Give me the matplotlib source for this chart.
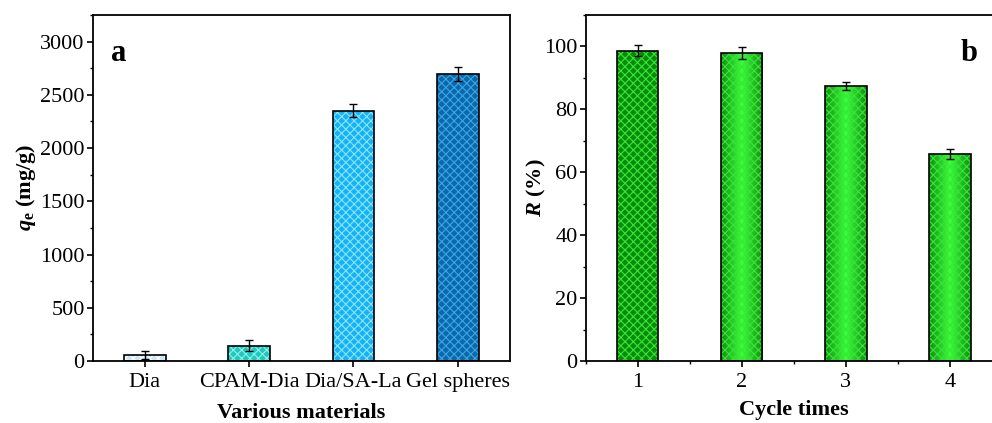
import numpy as np
import matplotlib
matplotlib.use('Agg')
import matplotlib.pyplot as plt
from matplotlib.ticker import MultipleLocator
from matplotlib.colors import LinearSegmentedColormap

plt.rcParams['font.family'] = ['Liberation Serif', 'DejaVu Serif']
plt.rcParams['mathtext.fontset'] = 'custom'
plt.rcParams['mathtext.rm'] = 'Liberation Serif:bold'
plt.rcParams['mathtext.it'] = 'Liberation Serif:bold:italic'
plt.rcParams['mathtext.bf'] = 'Liberation Serif:bold'
plt.rcParams['hatch.linewidth'] = 0.8

# panel a data
materials = ['Dia', 'CPAM-Dia', 'Dia/SA-La', 'Gel spheres']
qe = [56, 144, 2352, 2694]
qe_err = [40, 50, 60, 65]

# panel b data
cycles = [1, 2, 3, 4]
removal = [98.7, 97.9, 87.5, 65.7]
removal_err = [1.8, 1.8, 1.3, 1.6]

colors_a = ['#cde6f7', '#1ec9bd', '#12b4f5', '#0b69aa']
hatch_a = ['#ffffff', '#8ef0ea', '#8fe3ff', '#3aa6e8']

fig = plt.figure(figsize=(9.92, 4.23), dpi=100)
ax1 = fig.add_axes([0.0934, 0.1466, 0.4207, 0.818])
ax2 = fig.add_axes([0.5904, 0.1466, 0.4194, 0.818])

w = 0.4
xa = np.arange(1, len(materials) + 1)
# fill + hatch, then outline
ax1.bar(xa, qe, w, color=colors_a, edgecolor=hatch_a, hatch='xxxx', linewidth=0, zorder=2)
ax1.bar(xa, qe, w, facecolor='none', edgecolor='black', linewidth=1.2, zorder=3)
ax1.errorbar(xa, qe, yerr=qe_err, fmt='none', ecolor='black', elinewidth=1, capsize=3, capthick=1, zorder=4)
ax1.set_xlim(0.5, 4.5)
ax1.set_ylim(0, 3250)
ax1.set_xticks(xa)
ax1.set_xticklabels(materials)
ax1.yaxis.set_major_locator(MultipleLocator(500))
ax1.yaxis.set_minor_locator(MultipleLocator(250))
ax1.set_ylabel(r'$q_\mathrm{e}$ (mg/g)', fontsize=16, fontweight='bold', labelpad=1.5)
ax1.set_xlabel('Various materials', fontsize=16, fontweight='bold', labelpad=8)
ax1.text(0.045, 0.93, 'a', transform=ax1.transAxes, fontsize=22, fontweight='bold', va='top')

# panel b: gradient green bars
xb = np.array(cycles)
grad_cmap = LinearSegmentedColormap.from_list('g', ['#138a13', '#3cff3c', '#138a13'])
prof = np.linspace(0, 1, 200).reshape(1, -1)
bars = ax2.bar(xb, removal, w, color='#0a8a0a', linewidth=0, zorder=1)
for i, b in enumerate(bars):
    if i == 0:
        continue
    x0 = b.get_x()
    im = ax2.imshow(prof, extent=[x0, x0 + w, 0, removal[i]], aspect='auto', cmap=grad_cmap,
                    zorder=1.5, interpolation='bilinear')
    im.set_clip_path(b)
ax2.bar(xb, removal, w, facecolor='none', edgecolor='#35e835', hatch='xxxx', linewidth=0, zorder=2)
ax2.bar(xb, removal, w, facecolor='none', edgecolor='black', linewidth=1.2, zorder=3)
ax2.errorbar(xb, removal, yerr=removal_err, fmt='none', ecolor='black', elinewidth=1, capsize=3, capthick=1, zorder=4)
ax2.set_xlim(0.5, 4.5)
ax2.set_ylim(0, 110)
ax2.set_xticks(xb)
ax2.xaxis.set_minor_locator(MultipleLocator(0.5))
ax2.yaxis.set_major_locator(MultipleLocator(20))
ax2.yaxis.set_minor_locator(MultipleLocator(10))
ax2.set_ylabel(r'$R$ (%)', fontsize=16, fontweight='bold', labelpad=-3)
ax2.set_xlabel('Cycle times', fontsize=16, fontweight='bold', labelpad=6)
ax2.text(0.9, 0.93, 'b', transform=ax2.transAxes, fontsize=22, fontweight='bold', va='top')

for ax in (ax1, ax2):
    for s in ax.spines.values():
        s.set_linewidth(1.3)
    ax.tick_params(axis='both', which='major', direction='out', length=4.3, width=1.2, pad=1.5, labelsize=16)
    ax.tick_params(axis='both', which='minor', direction='out', length=2.5, width=1.0)
ax1.tick_params(axis='x', which='minor', bottom=False)
ax1.tick_params(axis='x', which='major', pad=4)
ax2.tick_params(axis='x', which='major', pad=4)

fig.savefig('out.png', dpi=100)
